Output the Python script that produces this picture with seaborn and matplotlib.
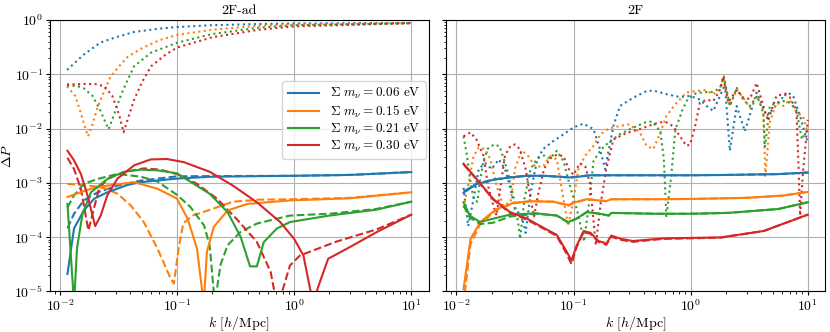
import matplotlib
matplotlib.use('Agg')
import matplotlib.pyplot as plt
import seaborn as sns

# Somme delle masse dei neutrini (etichette della legenda)
masses = ['0.06', '0.15', '0.21', '0.30']

# ---------------- pannello sinistro: 2F-ad ----------------
# linee puntinate
ad_dot_k_006 = [0.0115, 0.016, 0.022, 0.03, 0.043, 0.07, 0.1, 0.2, 0.5, 1.0, 10.0]
ad_dot_p_006 = [0.12, 0.23, 0.38, 0.48, 0.6, 0.69, 0.74, 0.8, 0.84, 0.86, 0.88]
ad_dot_k_015 = [0.0115, 0.0135, 0.015, 0.0165, 0.0174, 0.019, 0.021, 0.024, 0.027, 0.032, 0.038, 0.05, 0.07, 0.1, 0.2, 0.5, 1.0, 10.0]
ad_dot_p_015 = [0.06, 0.04, 0.02, 0.01, 0.0072, 0.012, 0.025, 0.05, 0.09, 0.14, 0.21, 0.3, 0.42, 0.53, 0.66, 0.78, 0.83, 0.87]
ad_dot_k_021 = [0.0115, 0.014, 0.016, 0.019, 0.022, 0.026, 0.029, 0.033, 0.038, 0.043, 0.06, 0.1, 0.2, 0.5, 1.0, 10.0]
ad_dot_p_021 = [0.062, 0.061, 0.055, 0.04, 0.022, 0.0097, 0.018, 0.04, 0.08, 0.14, 0.25, 0.38, 0.55, 0.72, 0.8, 0.87]
ad_dot_k_030 = [0.0115, 0.016, 0.02, 0.024, 0.028, 0.032, 0.035, 0.038, 0.043, 0.05, 0.06, 0.08, 0.1, 0.2, 0.5, 1.0, 10.0]
ad_dot_p_030 = [0.065, 0.066, 0.066, 0.06, 0.04, 0.018, 0.0085, 0.015, 0.034, 0.07, 0.14, 0.23, 0.31, 0.48, 0.66, 0.76, 0.87]

# linee tratteggiate
ad_dash_k_006 = [0.0116, 0.0132, 0.016, 0.021, 0.031, 0.049, 0.1, 0.2, 1.0, 3.0, 10.0]
ad_dash_p_006 = [1.45e-4, 2.7e-4, 4.75e-4, 6.7e-4, 8.9e-4, 1.1e-3, 1.32e-3, 1.33e-3, 1.35e-3, 1.4e-3, 1.58e-3]
ad_dash_k_015 = [0.0116, 0.02, 0.025, 0.031, 0.04, 0.052, 0.068, 0.088, 0.094, 0.103, 0.113, 0.136, 0.2, 0.3, 0.5, 1.0, 3.0, 10.0]
ad_dash_p_015 = [9.6e-4, 8.6e-4, 7.8e-4, 6.3e-4, 3.9e-4, 1.9e-4, 6.2e-5, 1.75e-5, 1.4e-5, 6e-5, 1.8e-4, 2.5e-4, 3.3e-4, 4.5e-4, 4.9e-4, 5.0e-4, 5.3e-4, 6.7e-4]
ad_dash_k_021 = [0.0116, 0.0132, 0.016, 0.021, 0.031, 0.049, 0.068, 0.1, 0.13, 0.17, 0.19, 0.21, 0.235, 0.27, 0.35, 0.48, 0.92, 2.0, 5.0, 10.0]
ad_dash_p_021 = [3.5e-4, 5.9e-4, 9.6e-4, 1.18e-3, 1.46e-3, 1.3e-3, 1.06e-3, 6e-4, 3.6e-4, 1.65e-4, 7.1e-5, 6e-6, 3.1e-5, 7.1e-5, 1.26e-4, 1.78e-4, 2.5e-4, 2.7e-4, 3.3e-4, 4.5e-4]
ad_dash_k_030 = [0.0116, 0.0132, 0.0151, 0.0166, 0.0175, 0.019, 0.0216, 0.0254, 0.035, 0.052, 0.072, 0.1, 0.148, 0.22, 0.32, 0.48, 0.63, 0.72, 0.81, 0.92, 1.12, 2.3, 5.1, 10.0]
ad_dash_p_030 = [2.9e-3, 1.8e-3, 7.8e-4, 2.5e-4, 1.34e-4, 2.7e-4, 7.8e-4, 1.18e-3, 1.57e-3, 1.85e-3, 1.75e-3, 1.45e-3, 9.6e-4, 5.1e-4, 2.2e-4, 8.2e-5, 2.3e-5, 5e-6, 1.2e-5, 3e-5, 4.6e-5, 8.3e-5, 1.4e-4, 2.6e-4]

# linee continue
ad_sol_k_006 = [0.0116, 0.0132, 0.016, 0.0196, 0.0254, 0.038, 0.049, 0.1, 0.2, 1.0, 3.0, 10.0]
ad_sol_p_006 = [2.1e-5, 1.45e-4, 3.1e-4, 5.1e-4, 6.7e-4, 9.2e-4, 1.03e-3, 1.2e-3, 1.3e-3, 1.35e-3, 1.4e-3, 1.58e-3]
ad_sol_k_015 = [0.0116, 0.0184, 0.0254, 0.043, 0.068, 0.094, 0.1, 0.123, 0.148, 0.169, 0.18, 0.206, 0.27, 0.4, 0.92, 3.0, 10.0]
ad_sol_p_015 = [5.5e-4, 7.8e-4, 8.9e-4, 1.03e-3, 7.8e-4, 5.5e-4, 5.1e-4, 2.2e-4, 6.2e-5, 6e-6, 5.4e-5, 1.55e-4, 3.1e-4, 4.1e-4, 4.75e-4, 5.2e-4, 6.7e-4]
ad_sol_k_021 = [0.0116, 0.0132, 0.014, 0.0156, 0.0184, 0.0254, 0.0353, 0.049, 0.068, 0.1, 0.139, 0.19, 0.27, 0.35, 0.42, 0.48, 0.55, 0.71, 0.92, 2.0, 5.0, 10.0]
ad_sol_p_021 = [4.1e-4, 6e-6, 6.3e-5, 2.7e-4, 6.7e-4, 1.18e-3, 1.6e-3, 1.75e-3, 1.7e-3, 1.5e-3, 9.6e-4, 6.3e-4, 2.9e-4, 1e-4, 2.9e-5, 2.9e-5, 8.1e-5, 1.44e-4, 1.9e-4, 2.5e-4, 3.2e-4, 4.5e-4]
ad_sol_k_030 = [0.0116, 0.0132, 0.0151, 0.0172, 0.02, 0.0223, 0.0254, 0.031, 0.043, 0.0595, 0.082, 0.115, 0.19, 0.3, 0.48, 0.76, 1.0, 1.2, 1.45, 1.6, 1.95, 3.0, 5.1, 10.0]
ad_sol_p_030 = [3.9e-3, 2.6e-3, 1.46e-3, 5.9e-4, 1.6e-4, 2.5e-4, 5.9e-4, 1.2e-3, 2.1e-3, 2.7e-3, 2.75e-3, 2.4e-3, 1.6e-3, 8.9e-4, 4.4e-4, 1.9e-4, 9.3e-5, 4.6e-5, 6e-6, 1.2e-5, 4e-5, 6.6e-5, 1.25e-4, 2.6e-4]

# ---------------- pannello destro: 2F ----------------
f_dot_k_006 = [0.0115, 0.0126, 0.014, 0.0155, 0.0176, 0.02, 0.023, 0.026, 0.029, 0.0316, 0.036, 0.039, 0.043, 0.049, 0.055, 0.068, 0.082, 0.1, 0.121, 0.148, 0.168, 0.186, 0.219, 0.249, 0.324, 0.42, 0.48, 0.62, 0.81, 0.99, 1.2, 1.37, 1.56, 1.78, 1.96, 2.16, 2.47, 2.9, 3.66, 4.45, 5.78, 6.6, 7.5, 8.6, 9.4, 10.0]
f_dot_p_006 = [8.1e-4, 1.6e-4, 5.0e-4, 1.8e-3, 2.3e-3, 1.8e-3, 2.7e-3, 1.8e-3, 7.6e-4, 3.3e-4, 2.5e-4, 1.2e-4, 6.6e-4, 2.7e-3, 4.2e-3, 6.0e-3, 7.8e-3, 1.05e-2, 1.23e-2, 9.8e-3, 4.2e-3, 1.8e-3, 1.12e-2, 2.6e-2, 3.7e-2, 4.9e-2, 5.0e-2, 4.3e-2, 3.8e-2, 4.0e-2, 3.4e-2, 2.6e-2, 2.1e-2, 4.0e-2, 6.5e-2, 3.9e-3, 2.6e-2, 8.9e-3, 4.6e-2, 1.7e-2, 3.2e-2, 4.7e-2, 4.0e-2, 1.7e-2, 8.3e-3, 5.5e-3]
f_dot_k_015 = [0.0115, 0.0126, 0.014, 0.0155, 0.0176, 0.0195, 0.022, 0.025, 0.029, 0.0316, 0.036, 0.041, 0.047, 0.055, 0.063, 0.072, 0.082, 0.09, 0.1, 0.11, 0.126, 0.148, 0.17, 0.2, 0.25, 0.3, 0.37, 0.42, 0.48, 0.55, 0.62, 0.76, 0.92, 1.12, 1.32, 1.56, 1.78, 1.92, 2.16, 2.47, 2.81, 3.2, 3.66, 4.17, 4.34, 4.74, 5.4, 6.2, 7.0, 8.0, 9.1, 10.0]
f_dot_p_015 = [3.5e-4, 8.9e-4, 3.1e-3, 4.5e-3, 4.2e-3, 2.7e-3, 8.9e-4, 3.8e-4, 4.4e-4, 1.8e-3, 4.0e-3, 3.1e-3, 2.0e-3, 2.0e-3, 3.1e-3, 2.7e-3, 5.0e-4, 1.6e-4, 5.0e-4, 1.8e-3, 3.2e-3, 4.8e-3, 7.9e-3, 1.0e-2, 1.12e-2, 1.2e-2, 8.3e-3, 4.8e-3, 4.2e-3, 8.3e-3, 1.7e-2, 3.0e-2, 4.6e-2, 4.9e-2, 5.1e-2, 4.3e-2, 5.2e-2, 8.5e-2, 2.6e-2, 5.2e-2, 3.7e-2, 2.4e-2, 4.0e-2, 2.2e-2, 1.35e-3, 1.3e-2, 3.0e-2, 2.6e-2, 3.4e-2, 1.95e-2, 1.7e-2, 8.3e-3]
f_dot_k_021 = [0.0115, 0.0123, 0.0132, 0.0141, 0.0151, 0.0158, 0.017, 0.0186, 0.021, 0.0234, 0.027, 0.031, 0.034, 0.035, 0.038, 0.043, 0.049, 0.056, 0.063, 0.072, 0.082, 0.093, 0.107, 0.123, 0.135, 0.148, 0.17, 0.2, 0.25, 0.295, 0.41, 0.47, 0.55, 0.59, 0.62, 0.68, 0.74, 0.85, 0.95, 1.12, 1.37, 1.56, 1.78, 1.92, 2.16, 2.47, 2.81, 3.2, 3.7, 4.17, 4.3, 4.74, 5.4, 6.2, 7.0, 8.0, 8.9, 9.4, 10.0]
f_dot_p_021 = [7.2e-3, 3.2e-3, 1.0e-3, 5.0e-4, 4.5e-4, 1.0e-3, 2.5e-3, 4.3e-3, 5.1e-3, 4.7e-3, 1.8e-3, 5.0e-4, 1.6e-4, 9.3e-5, 5.0e-4, 1.8e-3, 2.8e-3, 3.2e-3, 2.8e-3, 3.9e-3, 2.5e-3, 8.9e-4, 3.2e-4, 8.3e-5, 4.0e-4, 2.5e-3, 4.0e-3, 5.6e-3, 7.9e-3, 9.5e-3, 1.3e-2, 1.35e-2, 8.9e-3, 2.8e-3, 2.3e-4, 1.26e-3, 9.5e-3, 2.2e-2, 3.6e-2, 4.5e-2, 4.7e-2, 4.7e-2, 5.6e-2, 9.1e-2, 2.6e-2, 5.6e-2, 3.4e-2, 2.6e-2, 4.0e-2, 1.95e-2, 4.5e-3, 2.6e-2, 3.0e-2, 3.2e-2, 3.0e-2, 2.2e-2, 6.3e-3, 7.9e-3, 9.3e-3]
f_dot_k_030 = [0.0115, 0.0132, 0.0148, 0.017, 0.0186, 0.0207, 0.022, 0.0234, 0.026, 0.029, 0.0316, 0.0347, 0.039, 0.043, 0.046, 0.05, 0.056, 0.063, 0.072, 0.082, 0.091, 0.1, 0.113, 0.126, 0.138, 0.155, 0.17, 0.19, 0.219, 0.284, 0.37, 0.48, 0.55, 0.62, 0.71, 0.81, 0.92, 0.99, 1.09, 1.2, 1.37, 1.56, 1.78, 1.9, 2.09, 2.47, 2.81, 3.2, 3.66, 4.17, 4.57, 5.4, 6.2, 7.0, 8.0, 8.3, 8.6, 9.1, 10.0]
f_dot_p_030 = [7.2e-3, 8.5e-3, 6.3e-3, 3.2e-3, 8.9e-4, 3.8e-4, 2.5e-4, 6.6e-4, 3.2e-3, 4.8e-3, 5.1e-3, 4.2e-3, 1.8e-3, 5.0e-4, 2.4e-4, 6.3e-4, 1.8e-3, 2.8e-3, 3.3e-3, 3.1e-3, 1.8e-3, 1.4e-3, 2.3e-3, 2.0e-3, 1.0e-3, 7.1e-5, 4.0e-4, 1.8e-3, 6.3e-3, 8.3e-3, 9.8e-3, 1.2e-2, 1.3e-2, 1.3e-2, 1.1e-2, 7.2e-3, 4.8e-3, 5.1e-3, 1.1e-2, 3.0e-2, 3.4e-2, 3.2e-2, 5.2e-2, 9.1e-2, 3.0e-2, 5.2e-2, 3.7e-2, 3.5e-2, 6.9e-2, 2.6e-2, 1.4e-2, 4.0e-2, 4.3e-2, 3.8e-2, 2.2e-2, 2.5e-3, 2.5e-4, 1.6e-3, 1.45e-2]

f_dash_k_006 = [0.0115, 0.0149, 0.0207, 0.0287, 0.04, 0.055, 0.075, 0.093, 0.11, 0.138, 0.2, 0.32, 1.0, 2.1, 5.6, 10.0]
f_dash_p_006 = [6.9e-4, 9.7e-4, 1.15e-3, 1.27e-3, 1.35e-3, 1.35e-3, 1.3e-3, 1.25e-3, 1.3e-3, 1.38e-3, 1.38e-3, 1.38e-3, 1.38e-3, 1.4e-3, 1.45e-3, 1.55e-3]
f_dash_k_015 = [0.0115, 0.0132, 0.016, 0.022, 0.031, 0.043, 0.067, 0.091, 0.1, 0.13, 0.19, 0.21, 0.5, 1.0, 3.0, 6.0, 10.0]
f_dash_p_015 = [6e-6, 7.5e-5, 1.75e-4, 3.2e-4, 4.2e-4, 4.6e-4, 4.5e-4, 3.8e-4, 4.3e-4, 5.0e-4, 4.6e-4, 5.0e-4, 5.0e-4, 5.05e-4, 5.3e-4, 5.8e-4, 6.8e-4]
f_dash_k_021 = [0.0115, 0.013, 0.016, 0.0207, 0.0287, 0.048, 0.072, 0.09, 0.106, 0.13, 0.168, 0.2, 0.21, 0.5, 1.0, 2.1, 5.6, 10.0]
f_dash_p_021 = [3.8e-4, 2.3e-4, 1.75e-4, 1.85e-4, 2.4e-4, 2.7e-4, 2.5e-4, 1.85e-4, 2.2e-4, 2.9e-4, 2.7e-4, 2.5e-4, 2.8e-4, 2.7e-4, 2.7e-4, 2.8e-4, 3.3e-4, 4.4e-4]
f_dash_k_030 = [0.0115, 0.0149, 0.0207, 0.0287, 0.04, 0.055, 0.072, 0.087, 0.096, 0.106, 0.122, 0.14, 0.163, 0.18, 0.19, 0.21, 0.25, 0.32, 0.58, 1.8, 4.2, 10.0]
f_dash_p_030 = [2.2e-3, 1.15e-3, 4.9e-4, 2.8e-4, 2.1e-4, 1.45e-4, 1.05e-4, 5e-5, 3.2e-5, 6.5e-5, 1.25e-4, 1.15e-4, 8.2e-5, 7.7e-5, 7.2e-5, 1.02e-4, 9.0e-5, 8.2e-5, 9.3e-5, 9.8e-5, 1.3e-4, 2.6e-4]

f_sol_k_006 = [0.0115, 0.0149, 0.0207, 0.0287, 0.04, 0.055, 0.075, 0.093, 0.11, 0.138, 0.2, 0.32, 1.0, 2.1, 5.6, 10.0]
f_sol_p_006 = [6.6e-4, 9.5e-4, 1.14e-3, 1.26e-3, 1.35e-3, 1.35e-3, 1.3e-3, 1.26e-3, 1.3e-3, 1.38e-3, 1.38e-3, 1.38e-3, 1.38e-3, 1.4e-3, 1.45e-3, 1.55e-3]
f_sol_k_015 = [0.0115, 0.0132, 0.016, 0.022, 0.031, 0.043, 0.067, 0.091, 0.1, 0.13, 0.19, 0.21, 0.5, 1.0, 3.0, 6.0, 10.0]
f_sol_p_015 = [1.1e-5, 9.3e-5, 1.9e-4, 3.3e-4, 4.3e-4, 4.6e-4, 4.5e-4, 3.9e-4, 4.3e-4, 5.0e-4, 4.6e-4, 5.0e-4, 5.0e-4, 5.05e-4, 5.3e-4, 5.8e-4, 6.8e-4]
f_sol_k_021 = [0.0115, 0.013, 0.0159, 0.0207, 0.0287, 0.048, 0.072, 0.09, 0.106, 0.13, 0.168, 0.2, 0.21, 0.5, 1.0, 2.1, 5.6, 10.0]
f_sol_p_021 = [4.4e-4, 2.5e-4, 1.9e-4, 2.2e-4, 2.6e-4, 2.75e-4, 2.5e-4, 1.9e-4, 2.2e-4, 2.9e-4, 2.7e-4, 2.5e-4, 2.8e-4, 2.7e-4, 2.7e-4, 2.8e-4, 3.3e-4, 4.4e-4]
f_sol_k_030 = [0.0115, 0.0149, 0.0207, 0.0287, 0.04, 0.055, 0.072, 0.087, 0.096, 0.106, 0.122, 0.14, 0.163, 0.18, 0.19, 0.21, 0.25, 0.32, 0.58, 1.8, 4.2, 10.0]
f_sol_p_030 = [2.25e-3, 1.17e-3, 5.0e-4, 2.9e-4, 2.2e-4, 1.5e-4, 1.1e-4, 5.5e-5, 3.7e-5, 6.9e-5, 1.3e-4, 1.2e-4, 8.5e-5, 8.0e-5, 7.5e-5, 1.07e-4, 9.4e-5, 8.5e-5, 9.5e-5, 9.9e-5, 1.3e-4, 2.6e-4]

# raggruppamento per pannello e stile
panels = {
    '2F-ad': {
        ':': [(ad_dot_k_006, ad_dot_p_006), (ad_dot_k_015, ad_dot_p_015), (ad_dot_k_021, ad_dot_p_021), (ad_dot_k_030, ad_dot_p_030)],
        '--': [(ad_dash_k_006, ad_dash_p_006), (ad_dash_k_015, ad_dash_p_015), (ad_dash_k_021, ad_dash_p_021), (ad_dash_k_030, ad_dash_p_030)],
        '-': [(ad_sol_k_006, ad_sol_p_006), (ad_sol_k_015, ad_sol_p_015), (ad_sol_k_021, ad_sol_p_021), (ad_sol_k_030, ad_sol_p_030)],
    },
    '2F': {
        ':': [(f_dot_k_006, f_dot_p_006), (f_dot_k_015, f_dot_p_015), (f_dot_k_021, f_dot_p_021), (f_dot_k_030, f_dot_p_030)],
        '-': [(f_sol_k_006, f_sol_p_006), (f_sol_k_015, f_sol_p_015), (f_sol_k_021, f_sol_p_021), (f_sol_k_030, f_sol_p_030)],
        '--': [(f_dash_k_006, f_dash_p_006), (f_dash_k_015, f_dash_p_015), (f_dash_k_021, f_dash_p_021), (f_dash_k_030, f_dash_p_030)],
    },
}

colors = sns.color_palette('tab10')[:4]

plt.rcParams['font.family'] = 'serif'
plt.rcParams['font.serif'] = ['cmr10', 'DejaVu Serif']
plt.rcParams['mathtext.fontset'] = 'cm'
plt.rcParams['axes.formatter.use_mathtext'] = True
plt.rcParams['font.size'] = 10
plt.rcParams['xtick.major.size'] = 3
plt.rcParams['ytick.major.size'] = 3
plt.rcParams['xtick.minor.size'] = 1.8
plt.rcParams['ytick.minor.size'] = 1.8
plt.rcParams['xtick.major.pad'] = 2
plt.rcParams['ytick.major.pad'] = 2

fig, axes = plt.subplots(1, 2, figsize=(8.3, 3.32), dpi=100, sharex=True, sharey=True)

for ax, (title, styles) in zip(axes, panels.items()):
    for ls, curves in styles.items():
        for i, (k, p) in enumerate(curves):
            label = None
            if title == '2F-ad' and ls == '-':
                label = r'$\Sigma\ m_\nu = %s$ eV' % masses[i]
            sns.lineplot(x=k, y=p, ax=ax, color=colors[i], linestyle=ls, linewidth=1.5,
                         label=label, legend=False)
    ax.set_xscale('log')
    ax.set_yscale('log')
    ax.set_ylim(1e-5, 1)
    ax.set_title(title, fontsize=10, pad=4)
    ax.set_xlabel(r'$k$ [$h$/Mpc]', labelpad=0)
    ax.grid(True, which='major')

axes[0].set_ylabel(r'$\Delta P$', labelpad=0)
axes[0].legend(loc='upper right', bbox_to_anchor=(1.0, 0.785), fontsize=9.5,
               handlelength=2.4, labelspacing=0.15, borderaxespad=0.2)

plt.subplots_adjust(left=0.06, right=0.994, bottom=0.122, top=0.94, wspace=0.047)
plt.savefig('out.png')
